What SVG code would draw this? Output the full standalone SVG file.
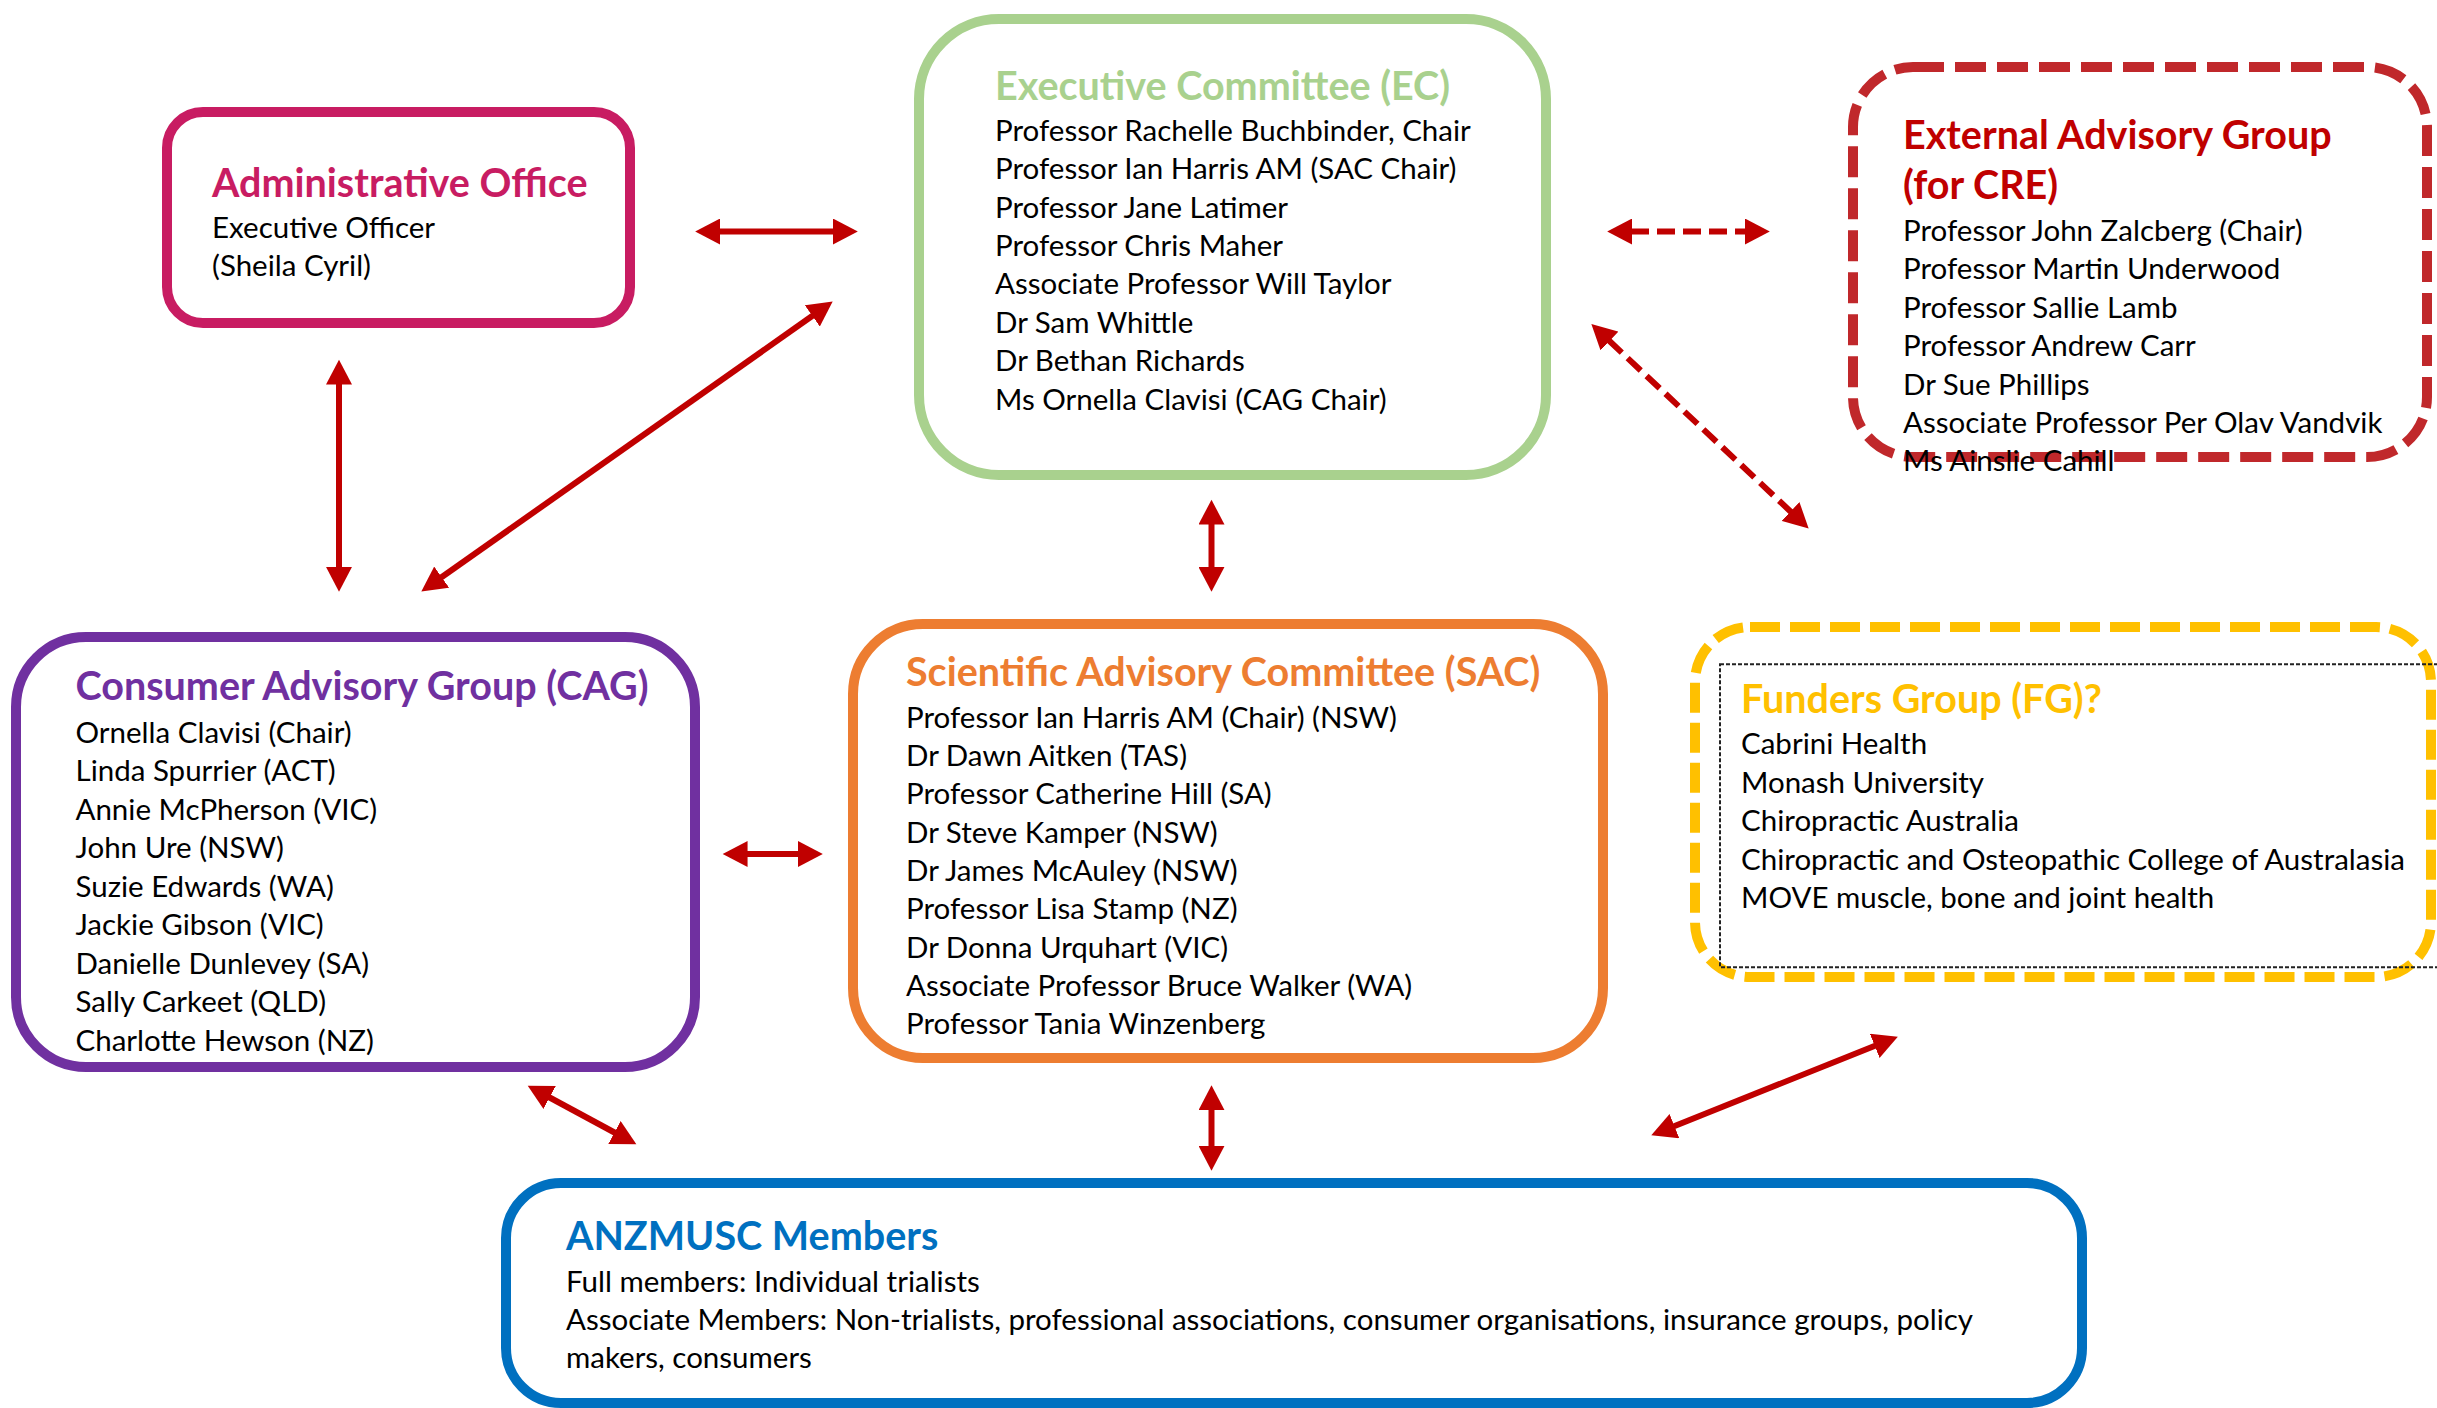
<svg xmlns="http://www.w3.org/2000/svg" width="2437" height="1408" viewBox="0 0 2437 1408">
<style>
.box{fill:#fff;stroke-width:10}
.t{font-family:Lato,Carlito,"Liberation Sans",sans-serif;font-weight:700;font-size:39.5px}
.b{font-family:Lato,Carlito,"Liberation Sans",sans-serif;font-size:29.5px;fill:#000}
.c{fill:none;stroke:#C00000;stroke-width:6}
.d{stroke-dasharray:18 8}
</style>
<defs>
<marker id="ah" markerUnits="userSpaceOnUse" markerWidth="26" markerHeight="26" refX="1" refY="12" orient="auto-start-reverse" viewBox="0 0 24 24">
<path d="M0,0 L23,12 L0,24 Z" fill="#C00000"/>
</marker>
</defs>
<rect width="2437" height="1408" fill="#fff"/>

<g id="connectors">
<line class="c" x1="719" y1="231.5" x2="834" y2="231.5" marker-start="url(#ah)" marker-end="url(#ah)"/>
<line class="c" x1="339" y1="383.5" x2="339" y2="568" marker-start="url(#ah)" marker-end="url(#ah)"/>
<line class="c" x1="813.2" y1="315.3" x2="440.8" y2="577.8" marker-start="url(#ah)" marker-end="url(#ah)"/>
<line class="c" x1="1211.5" y1="523.5" x2="1211.5" y2="568" marker-start="url(#ah)" marker-end="url(#ah)"/>
<line class="c" x1="746.5" y1="854" x2="799" y2="854" marker-start="url(#ah)" marker-end="url(#ah)"/>
<line class="c d" x1="1631" y1="231.5" x2="1746" y2="231.5" marker-start="url(#ah)" marker-end="url(#ah)"/>
<line class="c d" x1="1608.7" y1="340.3" x2="1791.3" y2="512.2" marker-start="url(#ah)" marker-end="url(#ah)"/>
<line class="c" x1="548.7" y1="1097" x2="615.4" y2="1133" marker-start="url(#ah)" marker-end="url(#ah)"/>
<line class="c" x1="1211.5" y1="1109" x2="1211.5" y2="1147" marker-start="url(#ah)" marker-end="url(#ah)"/>
<line class="c" x1="1673.4" y1="1126.5" x2="1875.7" y2="1045.5" marker-start="url(#ah)" marker-end="url(#ah)"/>
</g>

<g id="admin-office">
<rect class="box" x="167" y="112" width="463" height="211" rx="36" stroke="#C81C62"/>
<text class="t" x="212" y="197" fill="#C81C62">Administrative Office</text>
<text class="b" x="212" y="238">Executive Officer</text>
<text class="b" x="212" y="276.3">(Sheila Cyril)</text>
</g>

<g id="executive-committee">
<rect class="box" x="919" y="19" width="627" height="456" rx="80" stroke="#A9D18E"/>
<text class="t" x="995" y="100" fill="#A9D18E">Executive Committee (EC)</text>
<text class="b" x="995" y="140.8">Professor Rachelle Buchbinder, Chair</text>
<text class="b" x="995" y="179.2">Professor Ian Harris AM (SAC Chair)</text>
<text class="b" x="995" y="217.6">Professor Jane Latimer</text>
<text class="b" x="995" y="256">Professor Chris Maher</text>
<text class="b" x="995" y="294.4">Associate Professor Will Taylor</text>
<text class="b" x="995" y="332.8">Dr Sam Whittle</text>
<text class="b" x="995" y="371.2">Dr Bethan Richards</text>
<text class="b" x="995" y="409.6">Ms Ornella Clavisi (CAG Chair)</text>
</g>

<g id="external-advisory-group">
<rect class="box" x="1853" y="67" width="574" height="390" rx="60" stroke="#C0282B" stroke-width="11" stroke-dasharray="31 11"/>
<text class="t" x="1903" y="148.5" fill="#C00000">External Advisory Group</text>
<text class="t" x="1903" y="199" fill="#C00000">(for CRE)</text>
<text class="b" x="1903" y="241">Professor John Zalcberg (Chair)</text>
<text class="b" x="1903" y="279.4">Professor Martin Underwood</text>
<text class="b" x="1903" y="317.8">Professor Sallie Lamb</text>
<text class="b" x="1903" y="356.2">Professor Andrew Carr</text>
<text class="b" x="1903" y="394.6">Dr Sue Phillips</text>
<text class="b" x="1903" y="433">Associate Professor Per Olav Vandvik</text>
<text class="b" x="1903" y="471.4">Ms Ainslie Cahill</text>
</g>

<g id="consumer-advisory-group">
<rect class="box" x="16" y="637" width="679" height="430" rx="70" stroke="#7030A0"/>
<text class="t" x="75.5" y="700" fill="#7030A0">Consumer Advisory Group (CAG)</text>
<text class="b" x="75.5" y="742.7">Ornella Clavisi (Chair)</text>
<text class="b" x="75.5" y="781.2">Linda Spurrier (ACT)</text>
<text class="b" x="75.5" y="819.7">Annie McPherson (VIC)</text>
<text class="b" x="75.5" y="858.2">John Ure (NSW)</text>
<text class="b" x="75.5" y="896.7">Suzie Edwards (WA)</text>
<text class="b" x="75.5" y="935.2">Jackie Gibson (VIC)</text>
<text class="b" x="75.5" y="973.7">Danielle Dunlevey (SA)</text>
<text class="b" x="75.5" y="1012.2">Sally Carkeet (QLD)</text>
<text class="b" x="75.5" y="1050.7">Charlotte Hewson (NZ)</text>
</g>

<g id="scientific-advisory-committee">
<rect class="box" x="853" y="624" width="750" height="434" rx="70" stroke="#ED7D31"/>
<text class="t" x="906" y="686" fill="#ED7D31">Scientific Advisory Committee (SAC)</text>
<text class="b" x="906" y="727.7">Professor Ian Harris AM (Chair) (NSW)</text>
<text class="b" x="906" y="766">Dr Dawn Aitken (TAS)</text>
<text class="b" x="906" y="804.3">Professor Catherine Hill (SA)</text>
<text class="b" x="906" y="842.6">Dr Steve Kamper (NSW)</text>
<text class="b" x="906" y="880.9">Dr James McAuley (NSW)</text>
<text class="b" x="906" y="919.2">Professor Lisa Stamp (NZ)</text>
<text class="b" x="906" y="957.5">Dr Donna Urquhart (VIC)</text>
<text class="b" x="906" y="995.8">Associate Professor Bruce Walker (WA)</text>
<text class="b" x="906" y="1034.1">Professor Tania Winzenberg</text>
</g>

<g id="funders-group">
<rect class="box" x="1695" y="627" width="736" height="350" rx="55" stroke="#FFC000" stroke-dasharray="30 10"/>
<rect x="1720" y="664.3" width="760" height="303" fill="none" stroke="#222" stroke-width="2" stroke-dasharray="4 2"/>
<text class="t" x="1741" y="713" fill="#FFC000">Funders Group (FG)?</text>
<text class="b" x="1741" y="754.3">Cabrini Health</text>
<text class="b" x="1741" y="792.8">Monash University</text>
<text class="b" x="1741" y="831.3">Chiropractic Australia</text>
<text class="b" x="1741" y="869.8">Chiropractic and Osteopathic College of Australasia</text>
<text class="b" x="1741" y="908.3">MOVE muscle, bone and joint health</text>
</g>

<g id="anzmusc-members">
<rect class="box" x="506" y="1183" width="1576" height="220" rx="55" stroke="#0070C0" stroke-width="11"/>
<text class="t" x="566" y="1250" fill="#0070C0">ANZMUSC Members</text>
<text class="b" x="566" y="1291.7">Full members: Individual trialists</text>
<text class="b" x="566" y="1330">Associate Members: Non-trialists, professional associations, consumer organisations, insurance groups, policy</text>
<text class="b" x="566" y="1368.3">makers, consumers</text>
</g>
</svg>
